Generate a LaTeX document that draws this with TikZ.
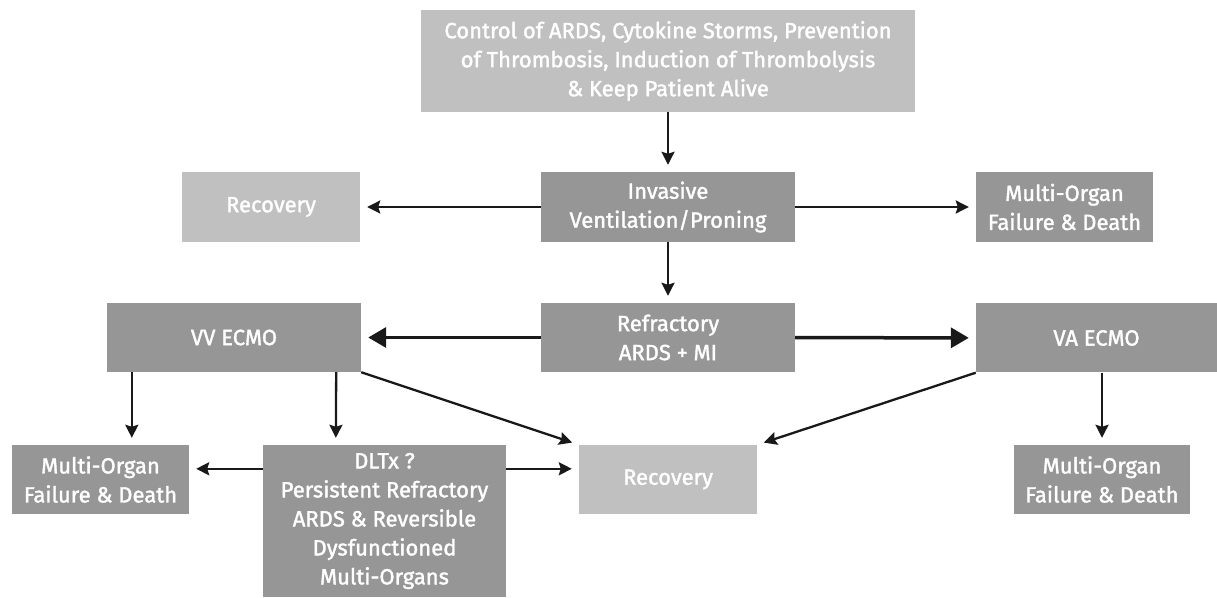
\documentclass[tikz,border=0pt]{standalone}
\usepackage{fontspec}
\setmainfont{Fira Sans}[FakeBold=1.6]
\usepackage{tikz}
\usetikzlibrary{positioning, arrows.meta}
\definecolor{ltgray}{RGB}{192,192,192}
\definecolor{dkgray}{RGB}{150,150,150}
\tikzstyle{box}=[inner sep=0pt, align=center, text=white, font=\fontsize{22}{29}\selectfont]
\tikzstyle{lbox}=[box, fill=ltgray]
\tikzstyle{dbox}=[box, fill=dkgray]
\tikzstyle{arr}=[-{Stealth[length=13pt, width=13pt, inset=2pt]}, line width=2.3pt, shorten >=7pt, color=black!90]
\tikzstyle{thickarr}=[-{Triangle[length=18pt, width=20pt]}, line width=3.5pt, shorten >=7pt, color=black!90]
\tikzset{>=stealth}

\begin{document}
\begin{tikzpicture}[x=1pt, y=1pt]
\useasboundingbox (0,0) rectangle (1217,597);
% the first rows
\node[lbox, minimum width=494pt, minimum height=102pt] (top) at (668, 536) {Control of ARDS, Cytokine Storms, Prevention\\of Thrombosis, Induction of Thrombolysis\\\& Keep Patient Alive};
\node[lbox, minimum width=178pt, minimum height=70pt] (rec1) at (271, 390) {Recovery};
\node[dbox, minimum width=254pt, minimum height=70pt] (inv) at (668, 390) {Invasive\\Ventilation/Proning};
\node[dbox, minimum width=177pt, minimum height=70pt] (mof1) at (1064.5, 390) {Multi-Organ\\Failure \& Death};
% the ECMO row
\node[dbox, minimum width=254pt, minimum height=69pt] (vv) at (234, 259.5) {VV ECMO};
\node[dbox, minimum width=254pt, minimum height=69pt] (refr) at (668, 259.5) {Refractory\\ARDS + MI};
\node[dbox, minimum width=241pt, minimum height=69pt] (va) at (1096.5, 259) {VA ECMO};
% the outcomes
\node[dbox, minimum width=177pt, minimum height=69pt] (mof2) at (100.5, 117.5) {Multi-Organ\\Failure \& Death};
\node[dbox, minimum width=243pt, minimum height=152pt] (dltx) at (384.5, 76) {DLTx ?\\Persistent Refractory\\ARDS \& Reversible\\Dysfunctioned\\Multi-Organs};
\node[lbox, minimum width=178pt, minimum height=69pt] (rec2) at (668, 117.5) {Recovery};
\node[dbox, minimum width=176pt, minimum height=69pt] (mof3) at (1102, 117.5) {Multi-Organ\\Failure \& Death};
% the arrows
\draw[arr] (top) -- (inv);
\draw[arr] (inv) -- (rec1);
\draw[arr] (inv) -- (mof1);
\draw[arr] (inv) -- (refr);
\draw[thickarr] (refr) -- (vv);
\draw[thickarr] (refr) -- (va);
\draw[arr] ([xshift=25pt]vv.south west) -- ([xshift=120pt]mof2.north west);
\draw[arr] ([xshift=-25pt]vv.south east) -- ([xshift=73pt]dltx.north west);
\draw[arr] (vv.south east) -- (rec2.north west);
\draw[arr] (va.south west) -- (rec2.north east);
\draw[arr] (mof3.north |- va.south) -- (mof3);
\draw[arr] ([yshift=-24pt]dltx.north west) -- ([yshift=-24pt]mof2.north east);
\draw[arr] ([yshift=-24pt]dltx.north east) -- ([yshift=-24pt]rec2.north west);
\end{tikzpicture}
\end{document}
